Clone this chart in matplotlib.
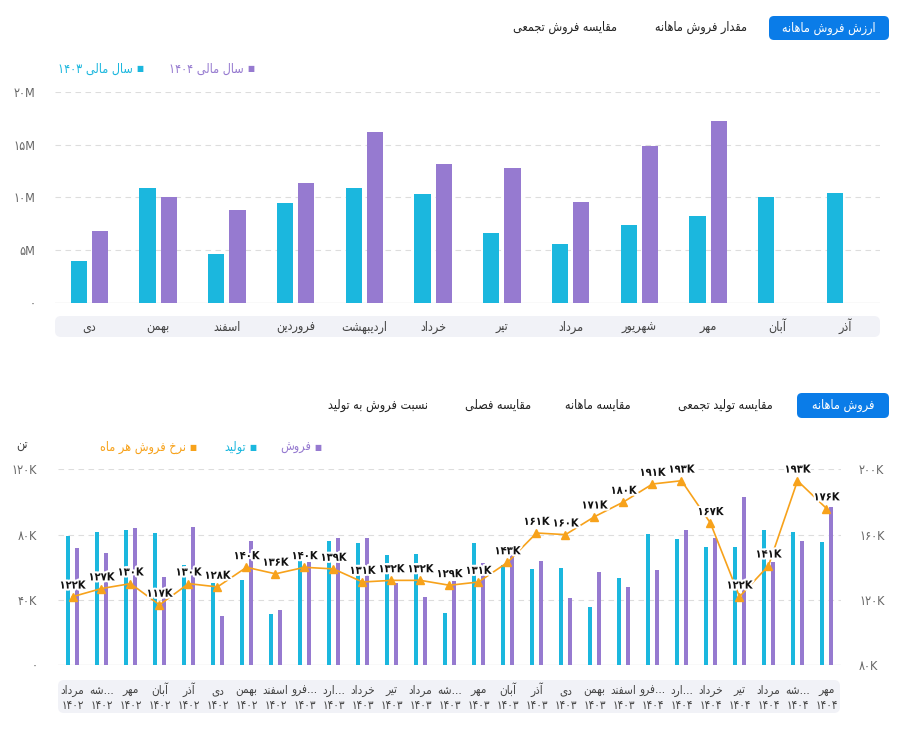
import numpy as np
import matplotlib
matplotlib.use('Agg')
from matplotlib import pyplot as plt
from matplotlib.patches import FancyBboxPatch
from matplotlib.transforms import IdentityTransform, blended_transform_factory
import matplotlib.patheffects as pe

W, H = 898, 740

# --- data -------------------------------------------------------------
top_months = ['دی', 'بهمن', 'اسفند', 'فروردین', 'اردیبهشت', 'خرداد',
              'تیر', 'مرداد', 'شهریور', 'مهر', 'آبان', 'آذر']
value_1403 = [4.0, 10.9, 4.6, 9.45, 10.9, 10.3, 6.6, 5.55, 7.35, 8.2, 10.0, 10.4]
value_1404 = [6.8, 10.0, 8.8, 11.35, 16.2, 13.15, 12.8, 9.55, 14.85, 17.25, np.nan, np.nan]

months = ['مرداد', 'شه...', 'مهر', 'آبان', 'آذر', 'دی', 'بهمن', 'اسفند',
          'فرو...', 'ارد...', 'خرداد', 'تیر', 'مرداد', 'شه...', 'مهر', 'آبان',
          'آذر', 'دی', 'بهمن', 'اسفند', 'فرو...', 'ارد...', 'خرداد', 'تیر',
          'مرداد', 'شه...', 'مهر']
years = ['1402'] * 8 + ['1403'] * 12 + ['1404'] * 7
production = [79.4, 81.8, 83.0, 81.2, 61.4, 50.2, 52.0, 31.6, 69.6, 76.3, 75.1, 67.4, 68.0,
              32.2, 75.1, 61.4, 59.2, 59.8, 35.9, 53.6, 80.6, 77.2, 72.6, 72.6, 83.0, 81.8, 75.7]
sales = [72.0, 68.6, 83.9, 54.3, 84.9, 30.4, 76.3, 33.7, 63.4, 77.8, 77.8, 50.2, 41.6,
         51.8, 62.5, 68.6, 64.1, 41.4, 57.3, 48.1, 58.5, 83.0, 77.8, 103.3, 63.4, 76.3, 97.1]
rate = [122, 127, 130, 117, 130, 128, 140, 136, 140, 139, 131, 132, 132, 129,
        131, 143, 161, 160, 171, 180, 191, 193, 167, 122, 141, 193, 176]

CYAN = '#1BB7DE'
PURPLE = '#967AD0'
ORANGE = '#F7A21B'
BLUE = '#0A7CE8'
GRAY = '#666666'

# --- simple persian shaping (matplotlib has no bidi) -------------------
FORMS = {
    'ا': '\uFE8D\uFE8E', 'آ': '\uFE81\uFE82', 'د': '\uFEA9\uFEAA', 'ذ': '\uFEAB\uFEAC',
    'ر': '\uFEAD\uFEAE', 'ز': '\uFEAF\uFEB0', 'و': '\uFEED\uFEEE',
    'ب': '\uFE8F\uFE90\uFE91\uFE92', 'ت': '\uFE95\uFE96\uFE97\uFE98',
    'ج': '\uFE9D\uFE9E\uFE9F\uFEA0', 'خ': '\uFEA5\uFEA6\uFEA7\uFEA8',
    'س': '\uFEB1\uFEB2\uFEB3\uFEB4', 'ش': '\uFEB5\uFEB6\uFEB7\uFEB8',
    'ص': '\uFEB9\uFEBA\uFEBB\uFEBC', 'ع': '\uFEC9\uFECA\uFECB\uFECC',
    'ف': '\uFED1\uFED2\uFED3\uFED4', 'ق': '\uFED5\uFED6\uFED7\uFED8',
    'ل': '\uFEDD\uFEDE\uFEDF\uFEE0', 'م': '\uFEE1\uFEE2\uFEE3\uFEE4',
    'ن': '\uFEE5\uFEE6\uFEE7\uFEE8', 'ه': '\uFEE9\uFEEA\uFEEB\uFEEC',
    'ی': '\uFEEF\uFEF0\uFEF3\uFEF4',
}


def fa(text):
    out = []
    for i, c in enumerate(text):
        f = FORMS.get(c)
        if f is None:
            out.append(c)
            continue
        prev = text[i - 1] if i > 0 else ''
        nxt = text[i + 1] if i + 1 < len(text) else ''
        jp = prev in FORMS and len(FORMS[prev]) == 4
        jn = len(f) == 4 and nxt in FORMS
        if jp and jn:
            out.append(f[3])
        elif jp:
            out.append(f[1])
        elif jn:
            out.append(f[2])
        else:
            out.append(f[0])
    return ''.join(out)[::-1]


def fnum(s):
    return str(s).translate(str.maketrans('0123456789', '۰۱۲۳۴۵۶۷۸۹'))


def label(text):
    if text.endswith('...'):
        return fa(text[:-3]) + '...'
    return fa(text)


plt.rcParams['font.family'] = ['DejaVu Sans']
plt.rcParams['font.stretch'] = 'condensed'
fig = plt.figure(figsize=(W / 100, H / 100), dpi=100)


def box(x0, y0, x1, y1, color, r):
    p = FancyBboxPatch((x0, H - y1), x1 - x0, y1 - y0,
                       boxstyle=f'round,pad=0,rounding_size={r}',
                       transform=IdentityTransform(), facecolor=color,
                       edgecolor='none', zorder=-1)
    fig.add_artist(p)


def ftext(x, y, s, **kw):
    fig.text(x / W, 1 - y / H, s, va='center', **kw)


# --- top tabs and legend -------------------------------------------------
box(769, 16, 889, 40, BLUE, 5)
ftext(829, 28, fa('ارزش فروش ماهانه'), ha='center', color='white', fontsize=9)
ftext(701, 27, fa('مقدار فروش ماهانه'), ha='center', color='#222222', fontsize=9)
ftext(565, 27, fa('مقایسه فروش تجمعی'), ha='center', color='#222222', fontsize=9)

ftext(251, 69, '■', ha='center', color=PURPLE, fontsize=6)
ftext(244, 69, fnum('1404') + ' ' + fa('سال مالی'), ha='right', color=PURPLE, fontsize=9)
ftext(140, 69, '■', ha='center', color=CYAN, fontsize=6)
ftext(133, 69, fnum('1403') + ' ' + fa('سال مالی'), ha='right', color=CYAN, fontsize=9)

# --- top chart --------------------------------------------------------
ax1 = fig.add_axes([55 / W, 1 - 302.7 / H, 825 / W, 210.4 / H])
ax1.set_facecolor('none')
x = np.arange(len(top_months))
ax1.bar(x - 0.155, value_1403, width=0.235, color=CYAN, zorder=3)
ax1.bar(x + 0.155, value_1404, width=0.235, color=PURPLE, zorder=3)
ax1.set_xlim(-0.5, len(top_months) - 0.5)
ax1.set_ylim(0, 20)
ax1.set_yticks([0, 5, 10, 15, 20])
ax1.set_yticklabels(['۰'] + [fnum(v) + 'M' for v in [5, 10, 15, 20]])
ax1.set_xticks([])
ax1.tick_params(length=0, colors=GRAY, labelsize=9)
ax1.tick_params(axis='y', pad=14)
for v in [5, 10, 15, 20]:
    ax1.axhline(v, color='#dddddd', lw=0.8, ls=(0, (5, 4)), zorder=1)
ax1.axhline(0, color='#e3e3e3', lw=1, zorder=1)
for s in ax1.spines.values():
    s.set_visible(False)
tr1 = blended_transform_factory(ax1.transData, fig.transFigure)
for i, m in enumerate(top_months):
    ax1.text(i, 1 - 331 / H, label(m), transform=tr1, ha='center', va='baseline',
             fontsize=9, color='#444444', clip_on=False)
box(55, 316, 880, 337, '#f1f2f7', 6)

# --- bottom tabs and legend ---------------------------------------------
box(797, 393, 889, 418, BLUE, 5)
ftext(843, 405, fa('فروش ماهانه'), ha='center', color='white', fontsize=9)
ftext(725, 405, fa('مقایسه تولید تجمعی'), ha='center', color='#222222', fontsize=9)
ftext(598, 405, fa('مقایسه ماهانه'), ha='center', color='#222222', fontsize=9)
ftext(498, 405, fa('مقایسه فصلی'), ha='center', color='#222222', fontsize=9)
ftext(378, 405, fa('نسبت فروش به تولید'), ha='center', color='#222222', fontsize=9)

ftext(318, 447, '■', ha='center', color=PURPLE, fontsize=6)
ftext(311, 447, fa('فروش'), ha='right', color=PURPLE, fontsize=9)
ftext(253, 447, '■', ha='center', color=CYAN, fontsize=6)
ftext(246, 447, fa('تولید'), ha='right', color=CYAN, fontsize=9)
ftext(193, 447, '■', ha='center', color=ORANGE, fontsize=6)
ftext(186, 447, fa('نرخ فروش هر ماه'), ha='right', color=ORANGE, fontsize=9)
ftext(22, 446, fa('تن'), ha='center', color='#444444', fontsize=9)

# --- bottom chart -----------------------------------------------------
ax2 = fig.add_axes([58 / W, 1 - 665.3 / H, 783 / W, 196 / H])
ax2.set_facecolor('none')
n = np.arange(len(months))
ax2.bar(n - 0.155, production, width=0.17, color=CYAN, zorder=3)
ax2.bar(n + 0.155, sales, width=0.17, color=PURPLE, zorder=3)
ax2.set_xlim(-0.5, len(months) - 0.5)
ax2.set_ylim(0, 120)
ax2.set_yticks([0, 40, 80, 120])
ax2.set_yticklabels(['۰'] + [fnum(v) + 'K' for v in [40, 80, 120]])
ax2.set_xticks([])
ax2.tick_params(length=0, colors=GRAY, labelsize=9)
ax2.tick_params(axis='y', pad=15)
for v in [40, 80, 120]:
    ax2.axhline(v, color='#dddddd', lw=0.8, ls=(0, (5, 4)), zorder=1)
ax2.axhline(0, color='#e3e3e3', lw=1, zorder=1)
tr2 = blended_transform_factory(ax2.transData, fig.transFigure)
for i, (m, y) in enumerate(zip(months, years)):
    ax2.text(i, 1 - 694 / H, label(m), transform=tr2, ha='center', va='baseline',
             fontsize=8.5, color='#444444', clip_on=False)
    ax2.text(i, 1 - 709 / H, fnum(y), transform=tr2, ha='center', va='baseline',
             fontsize=8.5, color='#444444', clip_on=False)

ax3 = ax2.twinx()
ax3.set_ylim(80, 200)
ax3.set_yticks([80, 120, 160, 200])
ax3.set_yticklabels([fnum(v) + 'K' for v in [80, 120, 160, 200]])
ax3.tick_params(length=0, colors=GRAY, labelsize=9, pad=13)
ax3.plot(n, rate, color=ORANGE, lw=1.2, marker='^', markersize=6, zorder=4)
for i, r in enumerate(rate):
    ax3.annotate(fnum(r) + 'K', (i, r), xytext=(0, 8), textcoords='offset points',
                 ha='center', va='center', fontsize=8, fontweight='bold', color='#111111',
                 path_effects=[pe.withStroke(linewidth=3, foreground='white')], zorder=5)
for a in (ax2, ax3):
    for s in a.spines.values():
        s.set_visible(False)
box(58, 680, 840, 713, '#f1f2f7', 6)

fig.savefig('out.png', dpi=100, facecolor='white')
